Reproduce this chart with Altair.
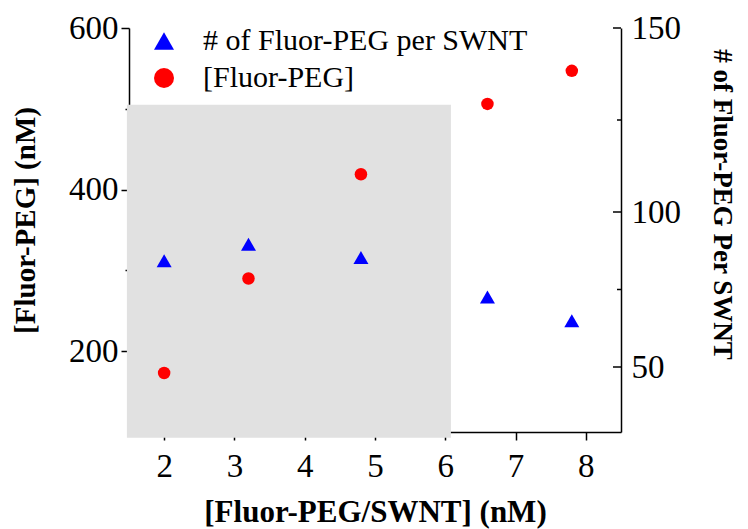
import altair as alt
import pandas as pd

# ---- data ----
x_vals = [2.0, 3.2, 4.8, 6.6, 7.8]
conc_vals = [173, 290, 419, 506, 547]            # [Fluor-PEG] (nM), left axis
per_swnt_vals = [84.3, 89.6, 85.3, 72.6, 64.9]   # # of Fluor-PEG per SWNT, right axis
series_names = ["# of Fluor-PEG per SWNT", "[Fluor-PEG]"]
shade_x = [1.47, 6.08]
shade_y = [93, 505]
x_ticks = [2, 3, 4, 5, 6, 7, 8]
left_ticks = [200, 300, 400, 500, 600]
right_major = [50, 100, 150]
right_minor = [75, 125]
# the reference's right axis is not evenly spaced (150->100 is wider than 100->50)
right_breaks = [29, 50, 100, 150]

W, H = 492, 404
FONT = "Liberation Serif"

df_c = pd.DataFrame({"x": x_vals, "conc": conc_vals, "series": series_names[1]})
df_t = pd.DataFrame({"x": x_vals, "per": per_swnt_vals, "series": series_names[0]})
df_shade = pd.DataFrame({"x1": [shade_x[0]], "x2": [shade_x[1]],
                         "y1": [shade_y[0]], "y2": [shade_y[1]]})
df_rmaj = pd.DataFrame({"per": right_major})
df_rmin = pd.DataFrame({"per": right_minor})

xscale = alt.Scale(domain=[1.5, 8.5], nice=False, zero=False)
x_axis = alt.Axis(values=x_ticks, title="[Fluor-PEG/SWNT] (nM)", tickSize=8,
                  labelPadding=10, titleX=246, titleY=80, titleBaseline="middle",
                  titleAlign="center", titleFontSize=31)
X = alt.X("x:Q", scale=xscale, axis=x_axis)

lscale = alt.Scale(domain=[100, 600], nice=False, zero=False)
l_axis = alt.Axis(values=left_ticks, orient="left", title="[Fluor-PEG] (nM)",
                  labelExpr="datum.value % 200 === 0 ? datum.label : ''",
                  tickSize={"condition": {"test": "datum.value % 200 === 0", "value": 8}, "value": 4},
                  labelPadding=3, titleX=-104, titleY=192, titleAngle=-90,
                  titleBaseline="middle", titleAlign="center")

rscale = alt.Scale(domain=right_breaks, range=[H, 339, 184, 0], nice=False, zero=False)
r_axis = alt.Axis(values=right_major, orient="right", title="# of Fluor-PEG Per SWNT",
                  ticks=False, tickSize=0, labelPadding=10, titleX=100, titleY=176,
                  titleAngle=90, titleBaseline="middle", titleAlign="center",
                  titleFontSize=27)

shape_scale = alt.Scale(domain=series_names, range=["triangle-up", "circle"])
color_scale = alt.Scale(domain=series_names, range=["#0000ff", "#ff0000"])
legend = alt.Legend(orient="none", legendX=20, legendY=-2, title=None,
                    labelFont=FONT, labelFontSize=30, labelColor="black",
                    labelLimit=600, symbolSize=400, symbolStrokeWidth=0,
                    symbolOpacity=1, labelOffset=24, rowPadding=7, padding=0)

shade = alt.Chart(df_shade).mark_rect(fill="#e1e1e1").encode(
    x=alt.X("x1:Q", scale=xscale, axis=x_axis), x2="x2:Q",
    y=alt.Y("y1:Q", scale=lscale, axis=l_axis), y2="y2:Q")

circles = alt.Chart(df_c).mark_point(filled=True, opacity=1, size=156).encode(
    x=X,
    y=alt.Y("conc:Q", scale=lscale, axis=l_axis),
    shape=alt.Shape("series:N", scale=shape_scale, legend=legend),
    color=alt.Color("series:N", scale=color_scale, legend=legend))

triangles = alt.Chart(df_t).mark_point(filled=True, opacity=1, size=225).encode(
    x=X,
    y=alt.Y("per:Q", scale=rscale, axis=r_axis),
    shape=alt.Shape("series:N", scale=shape_scale, legend=legend),
    color=alt.Color("series:N", scale=color_scale, legend=legend))

rule_maj = alt.Chart(df_rmaj).mark_rule(color="black", strokeWidth=1.5).encode(
    y=alt.Y("per:Q", scale=rscale, axis=r_axis),
    x=alt.value(W - 8), x2=alt.value(W))
rule_min = alt.Chart(df_rmin).mark_rule(color="black", strokeWidth=1.5).encode(
    y=alt.Y("per:Q", scale=rscale, axis=r_axis),
    x=alt.value(W - 4), x2=alt.value(W))

left = alt.layer(shade, circles)
right = alt.layer(triangles, rule_maj, rule_min)

chart = alt.layer(left, right).resolve_scale(y="independent").properties(
    width=W, height=H,
    autosize=alt.AutoSizeParams(type="none"),
    padding={"left": 121, "top": 20, "right": 119, "bottom": 98},
).configure_view(stroke=None).configure_axis(
    labelFont=FONT, labelFontSize=33, labelColor="black",
    titleFont=FONT, titleFontSize=29, titleFontWeight="bold", titleColor="black",
    domainColor="black", domainWidth=1.5, tickColor="black", tickWidth=1.5, grid=False,
)

chart.save("out.html", embed_options={"renderer": "svg", "actions": False})
